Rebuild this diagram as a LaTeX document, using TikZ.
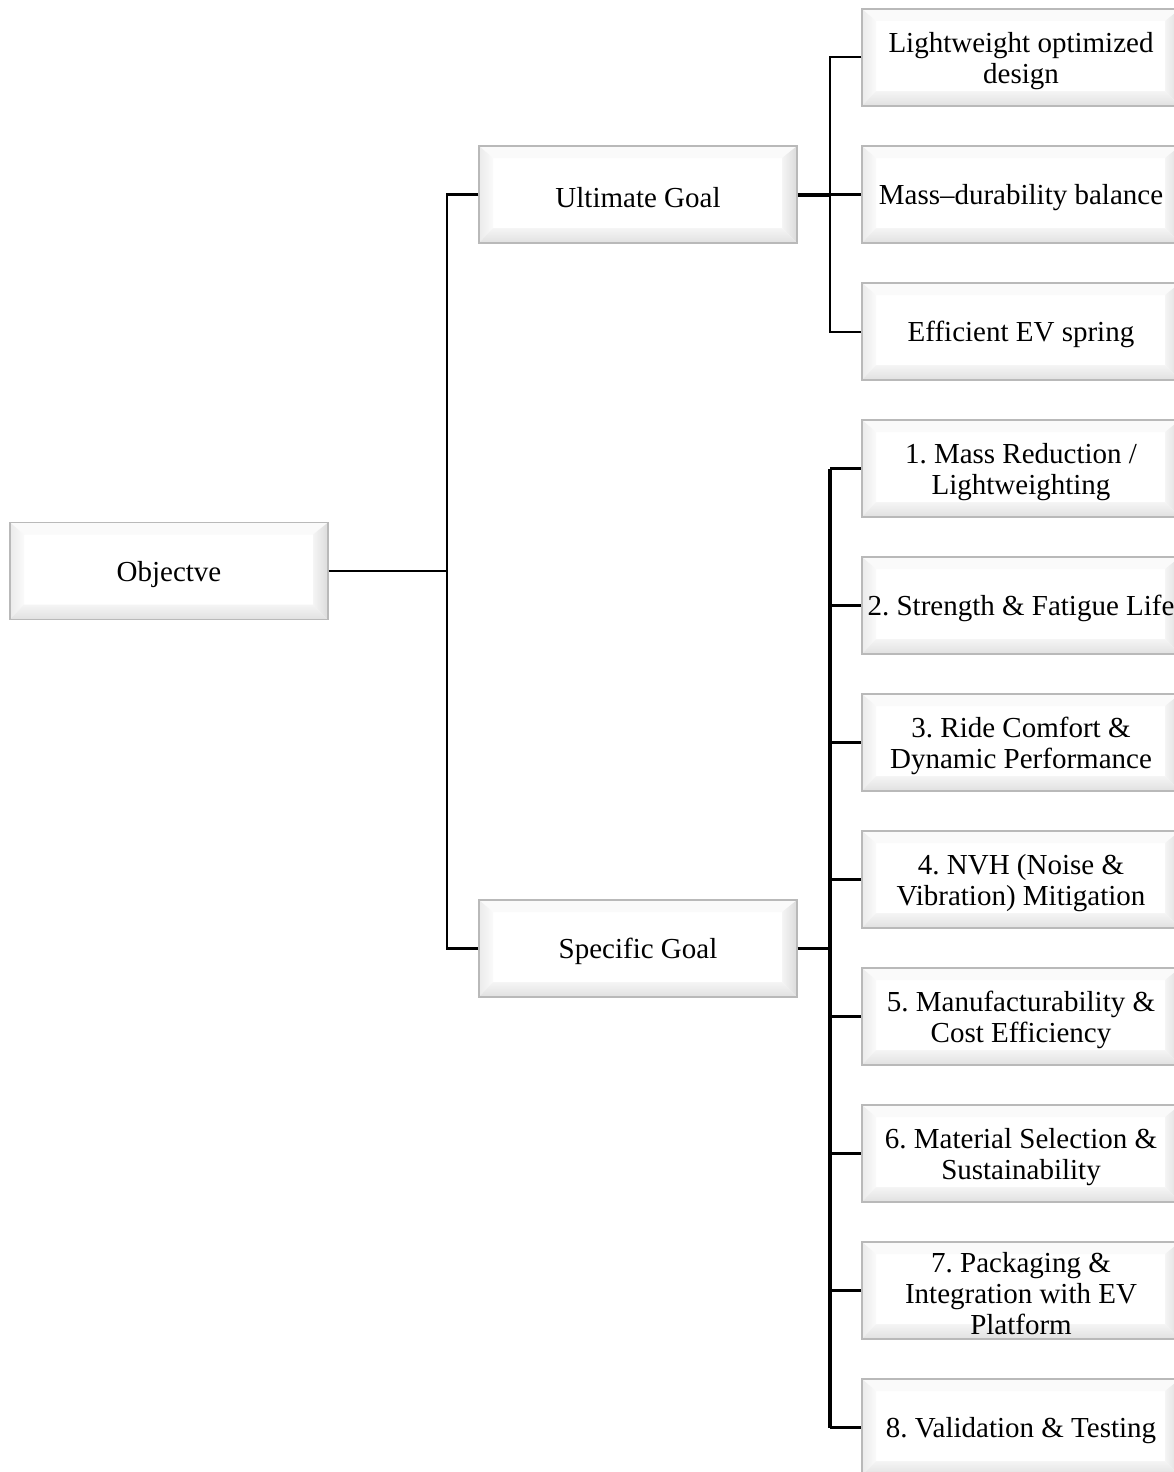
\documentclass[tikz,border=0pt]{standalone}
\usepackage{fontspec}
\setmainfont{Liberation Serif}
\usetikzlibrary{calc}
\frenchspacing
\newcommand\boxfont{\fontsize{29}{31}\selectfont\frenchspacing}
\newcommand\topstrut{\rule{0pt}{27pt}}
\tikzset{
  bev/.style={minimum width=318pt, minimum height=97pt, inner sep=0pt, align=center,
    font=\boxfont, draw=gray!55, line width=1.2pt, fill=white,
    path picture={
      \coordinate (pnw) at (path picture bounding box.north west);
      \coordinate (pne) at (path picture bounding box.north east);
      \coordinate (psw) at (path picture bounding box.south west);
      \coordinate (pse) at (path picture bounding box.south east);
      \fill[gray!4] (pnw) -- (pne) -- ($(pne)+(-15pt,-12pt)$) -- ($(pnw)+(14pt,-12pt)$) -- cycle;
      \shade[left color=gray!16, right color=gray!4] (pnw) -- ($(pnw)+(14pt,-12pt)$) -- ($(psw)+(14pt,15pt)$) -- (psw) -- cycle;
      \shade[left color=gray!8, right color=gray!28] (pne) -- (pse) -- ($(pse)+(-15pt,15pt)$) -- ($(pne)+(-15pt,-12pt)$) -- cycle;
      \shade[top color=gray!8, bottom color=gray!24] (psw) -- (pse) -- ($(pse)+(-15pt,15pt)$) -- ($(psw)+(14pt,15pt)$) -- cycle;
    }},
  conn/.style={line width=2.6pt, black},
}
\begin{document}
\begin{tikzpicture}[x=1pt,y=-1pt]
\useasboundingbox (0,0) rectangle (1174,1472);
\clip (0,0) rectangle (1174,1472);

\node[bev] (obj) at (169,571) {\topstrut Objectve};
\node[bev] (ult) at (638,194.5) {\topstrut Ultimate Goal};
\node[bev] (spec) at (638,948.5) {\topstrut Specific Goal};

\node[bev] (r1) at (1021,57.5) {\topstrut Lightweight optimized\\design};
\node[bev] (r2) at (1021,194.5) {\topstrut Mass–durability balance};
\node[bev] (r3) at (1021,331.5) {\topstrut Efficient EV spring};

\node[bev] (s1) at (1021,468.5) {\topstrut 1. Mass Reduction /\\Lightweighting};
\node[bev] (s2) at (1021,605.5) {\topstrut 2. Strength \& Fatigue Life};
\node[bev] (s3) at (1021,742.5) {\topstrut 3. Ride Comfort \&\\Dynamic Performance};
\node[bev] (s4) at (1021,879.5) {\topstrut 4. NVH (Noise \&\\Vibration) Mitigation};
\node[bev] (s5) at (1021,1016.5) {\topstrut 5. Manufacturability \&\\Cost Efficiency};
\node[bev] (s6) at (1021,1153.5) {\topstrut 6. Material Selection \&\\Sustainability};
\node[bev] (s7) at (1021,1290.5) {\topstrut 7. Packaging \&\\Integration with EV\\Platform};
\node[bev] (s8) at (1021,1427.5) {\topstrut 8. Validation \& Testing};

% main tree
\coordinate (j0) at (447,571);
\draw[conn] (obj.east) -- (j0);
\draw[conn] (ult.west) -- (ult.west -| j0) -- (spec.west -| j0) -- (spec.west);

% upper tree
\coordinate (j1) at (830,194.5);
\draw[line width=4pt] (ult.east) -- (j1);
\draw[line width=2pt] (r1.west) -- (r1.west -| j1) -- (r3.west -| j1) -- (r3.west);
\draw[conn] (j1) -- (r2.west);

% lower tree
\coordinate (j2) at (830,948.5);
\draw[line width=3.5pt] (spec.east) -- (j2);
\draw[line width=3.5pt] (s1.west -| j2) -- (s8.west -| j2);
\foreach \n in {s1,s2,s3,s4,s5,s6,s7,s8}
  \draw[line width=2.2pt] (\n.west -| j2) -- (\n.west);
\end{tikzpicture}
\end{document}
